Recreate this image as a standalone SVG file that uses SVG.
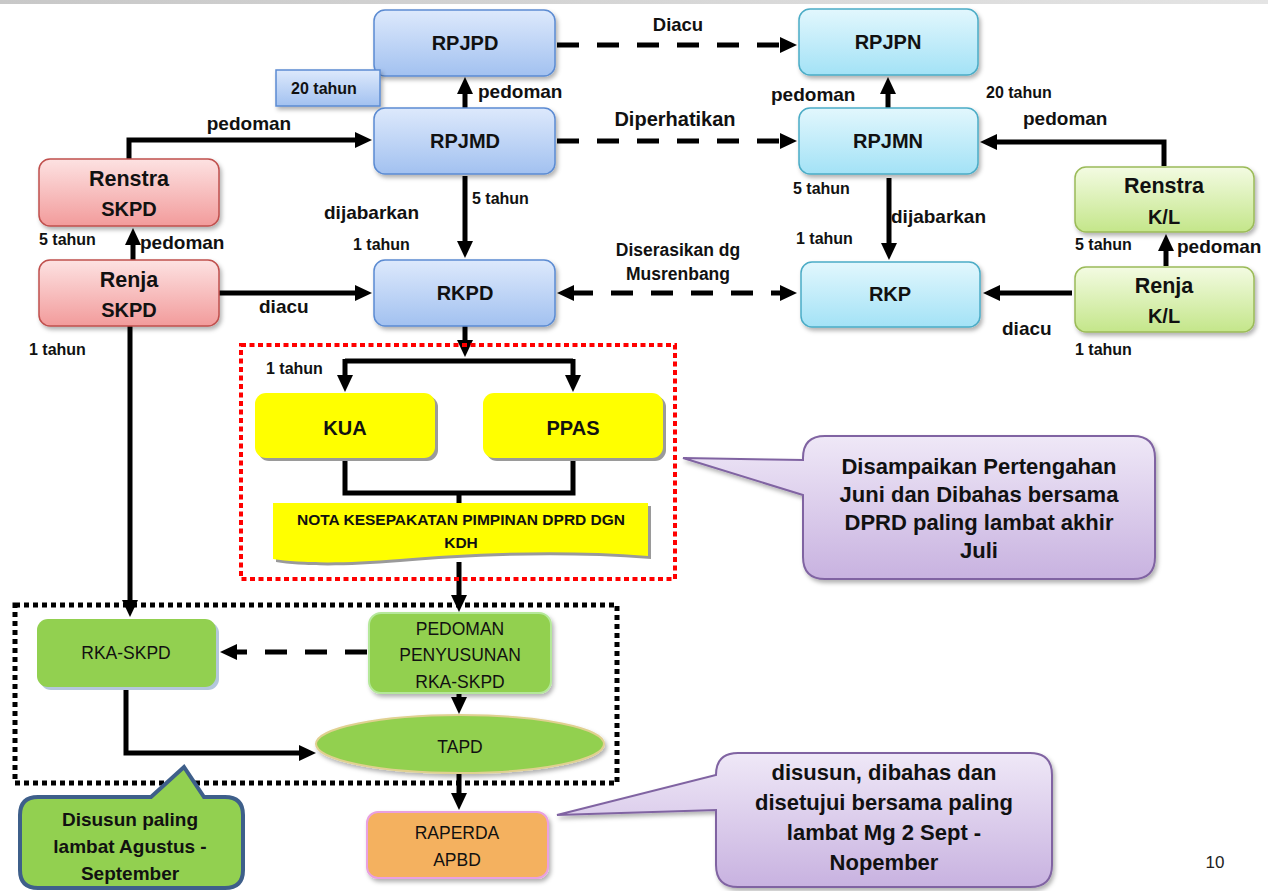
<svg xmlns="http://www.w3.org/2000/svg" width="1268" height="891" viewBox="0 0 1268 891">
<style>
.t{font-family:"Liberation Sans",Arial,sans-serif;font-weight:bold;fill:#111}
.n{font-size:20px;text-anchor:middle}
.nl{font-size:21.5px}
.l{font-size:19px}
.s{font-size:16px}
.c{text-anchor:middle}
.r{font-family:"Liberation Sans",Arial,sans-serif;font-size:17.5px;fill:#111;text-anchor:middle}
.ln{fill:none;stroke:#000;stroke-width:5}
.ds{fill:none;stroke:#000;stroke-width:5;stroke-dasharray:22 18}
</style>
<defs>
<linearGradient id="gB" x1="0" y1="0" x2="0" y2="1"><stop offset="0" stop-color="#dde9fc"/><stop offset="1" stop-color="#a2c1f0"/></linearGradient>
<linearGradient id="gC" x1="0" y1="0" x2="0" y2="1"><stop offset="0" stop-color="#e2f7fd"/><stop offset="1" stop-color="#a3e2f6"/></linearGradient>
<linearGradient id="gR" x1="0" y1="0" x2="0" y2="1"><stop offset="0" stop-color="#fde2e2"/><stop offset="1" stop-color="#f29b9b"/></linearGradient>
<linearGradient id="gG" x1="0" y1="0" x2="0" y2="1"><stop offset="0" stop-color="#f3fbe2"/><stop offset="1" stop-color="#c4e68a"/></linearGradient>
<linearGradient id="gP" x1="0" y1="0" x2="0" y2="1"><stop offset="0" stop-color="#efe8f7"/><stop offset="1" stop-color="#c8b2e0"/></linearGradient>
<linearGradient id="gTop" x1="0" y1="0" x2="1" y2="0"><stop offset="0" stop-color="#c8c8c8"/><stop offset="1" stop-color="#e4e4e4"/></linearGradient>
<filter id="sh" x="-10%" y="-10%" width="130%" height="140%"><feDropShadow dx="2" dy="3" stdDeviation="2" flood-color="#000" flood-opacity="0.3"/></filter>
<marker id="ah" markerUnits="userSpaceOnUse" markerWidth="18" markerHeight="18" refX="3" refY="8" orient="auto-start-reverse"><path d="M0,0 L17,8 L0,16 Z" fill="#000"/></marker>
</defs>
<rect x="0" y="0" width="1268" height="4" fill="url(#gTop)"/>

<g id="connectors">
<path class="ds" d="M557,45 H783" marker-end="url(#ah)"/>
<path class="ds" d="M557,141 H783" marker-end="url(#ah)"/>
<path class="ds" d="M571,293 H783" marker-start="url(#ah)" marker-end="url(#ah)"/>
<path class="ln" d="M465,108 V91" marker-end="url(#ah)"/>
<path class="ln" d="M888,108 V91" marker-end="url(#ah)"/>
<path class="ln" d="M129,159 V140 H358" marker-end="url(#ah)"/>
<path class="ln" d="M133,260 V242" marker-end="url(#ah)"/>
<path class="ln" d="M219,293 H358" marker-end="url(#ah)"/>
<path class="ln" d="M465,176 V244" marker-end="url(#ah)"/>
<path class="ln" d="M889,178 V246" marker-end="url(#ah)"/>
<path class="ln" d="M1164,166 V142 H994" marker-end="url(#ah)"/>
<path class="ln" d="M1166,266 V248" marker-end="url(#ah)"/>
<path class="ln" d="M1072,293 H997" marker-end="url(#ah)"/>
<path class="ln" d="M465,326 V343" marker-end="url(#ah)"/>
<path class="ln" d="M345,361 H573"/>
<path class="ln" d="M345,359 V378" marker-end="url(#ah)"/>
<path class="ln" d="M573,359 V378" marker-end="url(#ah)"/>
<path class="ln" d="M345,458 V493 H573 V458"/>
<path class="ln" d="M459,493 V505"/>
<path class="ln" d="M459,562 V598" marker-end="url(#ah)"/>
<path class="ln" d="M130,326 V603" marker-end="url(#ah)"/>
<path class="ds" d="M367,652 H234" marker-end="url(#ah)"/>
<path class="ln" d="M459,693 V700" marker-end="url(#ah)"/>
<path class="ln" d="M126,687 V753 H302" marker-end="url(#ah)"/>
<path class="ln" d="M459,774 V796" marker-end="url(#ah)"/>
</g>

<g id="box-red">
<rect x="241" y="345" width="434" height="234" fill="none" stroke="#ff0000" stroke-width="4" stroke-dasharray="5 3.5"/>
</g>
<g id="box-black">
<rect x="15" y="605" width="602" height="178" fill="none" stroke="#000" stroke-width="5" stroke-dasharray="5 4"/>
</g>

<g id="RPJPD"><rect x="374" y="10" width="181" height="66" rx="11" fill="url(#gB)" stroke="#5b8bd2" stroke-width="1.5" filter="url(#sh)"/><text class="t n" x="465" y="50">RPJPD</text></g>
<g id="tahun20"><rect x="276" y="70" width="104" height="36" fill="url(#gB)" stroke="#5b8bd2" stroke-width="1.5" filter="url(#sh)"/><text class="t s c" x="324" y="94">20 tahun</text></g>
<g id="RPJMD"><rect x="374" y="108" width="181" height="66" rx="11" fill="url(#gB)" stroke="#5b8bd2" stroke-width="1.5" filter="url(#sh)"/><text class="t n" x="465" y="148">RPJMD</text></g>
<g id="RKPD"><rect x="374" y="260" width="181" height="66" rx="11" fill="url(#gB)" stroke="#5b8bd2" stroke-width="1.5" filter="url(#sh)"/><text class="t n" x="465" y="300">RKPD</text></g>
<g id="RPJPN"><rect x="799" y="9" width="179" height="66" rx="11" fill="url(#gC)" stroke="#4bacc6" stroke-width="1.5" filter="url(#sh)"/><text class="t n" x="888" y="49">RPJPN</text></g>
<g id="RPJMN"><rect x="799" y="108" width="179" height="66" rx="11" fill="url(#gC)" stroke="#4bacc6" stroke-width="1.5" filter="url(#sh)"/><text class="t n" x="888" y="148">RPJMN</text></g>
<g id="RKP"><rect x="801" y="262" width="179" height="65" rx="11" fill="url(#gC)" stroke="#4bacc6" stroke-width="1.5" filter="url(#sh)"/><text class="t n" x="890" y="301">RKP</text></g>
<g id="RenstraSKPD"><rect x="39" y="159" width="180" height="67" rx="11" fill="url(#gR)" stroke="#c0504d" stroke-width="1.5" filter="url(#sh)"/><text class="t n nl" x="129" y="186">Renstra</text><text class="t n" x="129" y="216">SKPD</text></g>
<g id="RenjaSKPD"><rect x="39" y="260" width="180" height="66" rx="11" fill="url(#gR)" stroke="#c0504d" stroke-width="1.5" filter="url(#sh)"/><text class="t n nl" x="129" y="287">Renja</text><text class="t n" x="129" y="317">SKPD</text></g>
<g id="RenstraKL"><rect x="1075" y="167" width="179" height="65" rx="11" fill="url(#gG)" stroke="#9bbb59" stroke-width="1.5" filter="url(#sh)"/><text class="t n nl" x="1164" y="193">Renstra</text><text class="t n" x="1164" y="224">K/L</text></g>
<g id="RenjaKL"><rect x="1075" y="267" width="179" height="65" rx="11" fill="url(#gG)" stroke="#9bbb59" stroke-width="1.5" filter="url(#sh)"/><text class="t n nl" x="1164" y="293">Renja</text><text class="t n" x="1164" y="323">K/L</text></g>

<g id="KUA"><rect x="258" y="396" width="180" height="65" rx="11" fill="#9a9a9a"/><rect x="255" y="393" width="180" height="65" rx="11" fill="#ffff00"/><text class="t n" x="345" y="435">KUA</text></g>
<g id="PPAS"><rect x="486" y="396" width="180" height="65" rx="11" fill="#9a9a9a"/><rect x="483" y="393" width="180" height="65" rx="11" fill="#ffff00"/><text class="t n" x="573" y="435">PPAS</text></g>
<g id="NOTA"><path d="M276,506 H651 V559 C560,552 470,556 400,562 C340,567 300,566 276,562 Z" fill="#9a9a9a"/><path d="M273,503 H648 V556 C560,549 470,553 400,559 C340,564 300,563 273,559 Z" fill="#ffff00"/><text class="t c" x="461" y="525" font-size="15.5">NOTA KESEPAKATAN PIMPINAN DPRD DGN</text><text class="t c" x="461" y="548" font-size="15.5">KDH</text></g>

<g id="RKA-SKPD"><rect x="40" y="622" width="179" height="68" rx="11" fill="#b4c7dc"/><rect x="37" y="619" width="179" height="68" rx="11" fill="#92d050"/><text class="r" x="126" y="659">RKA-SKPD</text></g>
<g id="PEDOMAN"><rect x="369" y="613" width="182" height="80" rx="12" fill="#92d050" stroke="#b5e89a" stroke-width="2" filter="url(#sh)"/><text class="r" x="460" y="635" font-size="18">PEDOMAN</text><text class="r" x="460" y="661" font-size="18">PENYUSUNAN</text><text class="r" x="460" y="688" font-size="18">RKA-SKPD</text></g>
<g id="TAPD"><ellipse cx="460" cy="744" rx="144" ry="29" fill="#92d050" stroke="#e0d090" stroke-width="2" filter="url(#sh)"/><text class="r" x="460" y="753" font-size="23">TAPD</text></g>
<g id="RAPERDA"><rect x="367" y="812" width="181" height="66" rx="11" fill="#f4b15e" stroke="#e9a0e0" stroke-width="2" filter="url(#sh)"/><text class="r" x="457" y="839">RAPERDA</text><text class="r" x="457" y="866">APBD</text></g>

<g id="callout-green"><path d="M38,797 H151 L184,767 L204,797 H225 Q243,797 243,815 V870 Q243,888 225,888 H38 Q20,888 20,870 V815 Q20,797 38,797 Z" fill="#92d050" stroke="#3e5f8a" stroke-width="4"/><text class="t c" x="130" y="826" font-size="19">Disusun paling</text><text class="t c" x="130" y="853" font-size="19">lambat Agustus -</text><text class="t c" x="130" y="880" font-size="19">September</text></g>
<g id="callout-juni"><path d="M825,436 H1133 Q1155,436 1155,458 V557 Q1155,579 1133,579 H825 Q803,579 803,557 V495 L683,458 L803,460 V458 Q803,436 825,436 Z" fill="url(#gP)" stroke="#8064a2" stroke-width="2" filter="url(#sh)"/><text class="t c" x="979" y="474" font-size="22">Disampaikan Pertengahan</text><text class="t c" x="979" y="502" font-size="22">Juni dan Dibahas bersama</text><text class="t c" x="979" y="530" font-size="22">DPRD paling lambat akhir</text><text class="t c" x="979" y="558" font-size="22">Juli</text></g>
<g id="callout-sept"><path d="M738,753 H1030 Q1052,753 1052,775 V865 Q1052,887 1030,887 H738 Q716,887 716,865 V810 L557,815 L716,775 Q716,753 738,753 Z" fill="url(#gP)" stroke="#8064a2" stroke-width="2" filter="url(#sh)"/><text class="t c" x="884" y="780" font-size="22">disusun, dibahas dan</text><text class="t c" x="884" y="810" font-size="22">disetujui bersama paling</text><text class="t c" x="884" y="840" font-size="22">lambat Mg 2 Sept -</text><text class="t c" x="884" y="870" font-size="22">Nopember</text></g>

<g id="labels">
<text class="t c" x="678" y="31" font-size="18.5">Diacu</text>
<text class="t c" x="675" y="126" font-size="20">Diperhatikan</text>
<text class="t c" x="678" y="256" font-size="17.5">Diserasikan dg</text>
<text class="t c" x="678" y="280" font-size="17.5">Musrenbang</text>
<text class="t l c" x="249" y="130">pedoman</text>
<text class="t l" x="478" y="98">pedoman</text>
<text class="t l" x="771" y="101">pedoman</text>
<text class="t l" x="1023" y="125">pedoman</text>
<text class="t l" x="140" y="249">pedoman</text>
<text class="t l" x="1177" y="253">pedoman</text>
<text class="t l" x="324" y="219">dijabarkan</text>
<text class="t l" x="891" y="223">dijabarkan</text>
<text class="t l" x="259" y="313">diacu</text>
<text class="t l" x="1002" y="335">diacu</text>
<text class="t s" x="472" y="204">5 tahun</text>
<text class="t s" x="353" y="250">1 tahun</text>
<text class="t s" x="39" y="245">5 tahun</text>
<text class="t s" x="29" y="355">1 tahun</text>
<text class="t s" x="986" y="98">20 tahun</text>
<text class="t s" x="793" y="194">5 tahun</text>
<text class="t s" x="796" y="244">1 tahun</text>
<text class="t s" x="1075" y="250">5 tahun</text>
<text class="t s" x="1075" y="355">1 tahun</text>
<text class="t s" x="266" y="374">1 tahun</text>
<text x="1215" y="868" font-family="'Liberation Sans',Arial,sans-serif" font-size="17" fill="#222" text-anchor="middle">10</text>
</g>
</svg>
